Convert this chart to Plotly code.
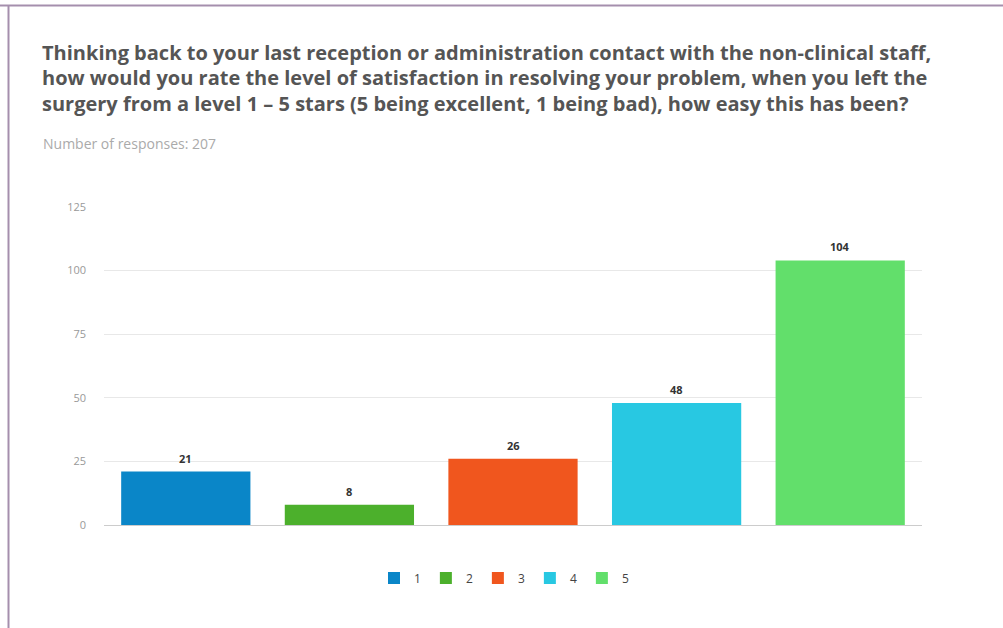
import plotly.graph_objects as go

# Survey responses per star rating
ratings = ["1", "2", "3", "4", "5"]
counts = [21, 8, 26, 48, 104]
colors = ["#0a86c8", "#4cb02c", "#f0561e", "#28c8e2", "#62df6b"]

title_lines = [
    "Thinking back to your last reception or administration contact with the non-clinical staff,",
    "how would you rate the level of satisfaction in resolving your problem, when you left the",
    "surgery from a level 1 \u2013 5 stars (5 being excellent, 1 being bad), how easy this has been?",
]
subtitle = "Number of responses: 207"
y_ticks = [0, 25, 50, 75, 100, 125]

W, H = 1003, 628
ML, MR, MT, MB = 104, 81, 207, 103
PW, PH = W - ML - MR, H - MT - MB


def px_x(x):
    return (x - ML) / PW


def px_y(y):
    return (H - MB - y) / PH


font = "Open Sans, Noto Sans, sans-serif"

fig = go.Figure()
for r, c, col in zip(ratings, counts, colors):
    fig.add_trace(go.Bar(x=[r], y=[c], name=r, marker=dict(color=col, line_width=0),
                         hoverinfo="x+y"))

annotations = []
# value labels: category axes place annotations by category index
for i, c in enumerate(counts):
    annotations.append(dict(x=i, y=c, xref="x", yref="y", text=f"<b>{c}</b>",
                            showarrow=False, yanchor="bottom", yshift=4,
                            font=dict(size=11, color="#333333", family=font)))

for i, line in enumerate(title_lines):
    annotations.append(dict(x=px_x(40), y=px_y(52 + i * 25.5), xref="paper", yref="paper",
                            xanchor="left", yanchor="middle", showarrow=False,
                            text=f"<b>{line}</b>",
                            font=dict(size=20, color="#555555", family=font)))
annotations.append(dict(x=px_x(41), y=px_y(143), xref="paper", yref="paper",
                        xanchor="left", yanchor="middle", showarrow=False, text=subtitle,
                        font=dict(size=14, color="#aaaaaa", family=font)))

border = "#a58fad"
shapes = [
    dict(type="line", xref="paper", yref="paper", x0=px_x(0), x1=px_x(W),
         y0=px_y(5.5), y1=px_y(5.5), line=dict(color=border, width=2)),
    dict(type="line", xref="paper", yref="paper", x0=px_x(8.5), x1=px_x(8.5),
         y0=px_y(5), y1=px_y(H), line=dict(color=border, width=2)),
]

fig.update_layout(
    width=W, height=H,
    margin=dict(l=ML, r=MR, t=MT, b=MB),
    paper_bgcolor="white", plot_bgcolor="white",
    barmode="overlay", bargap=0.21,
    showlegend=True,
    legend=dict(orientation="h", x=px_x(504), xanchor="center", y=px_y(578), yanchor="middle",
                font=dict(size=12, color="#444444", family=font), itemwidth=30,
                traceorder="normal"),
    xaxis=dict(type="category", range=[-0.5, len(ratings) - 0.5], showticklabels=False,
               showgrid=False, showline=True, linecolor="#cccccc", linewidth=1, ticks="",
               zeroline=False),
    yaxis=dict(range=[0, 125], tickvals=y_ticks, showgrid=True, gridcolor="#e8e8e8",
               zeroline=False, showline=False, ticks="", ticklabelstandoff=17,
               tickfont=dict(size=11, color="#999999", family=font)),
    annotations=annotations,
    shapes=shapes,
)

fig.write_html("out.html")
